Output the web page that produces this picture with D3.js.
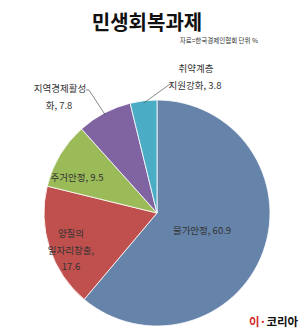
<!DOCTYPE html>
<html><head><meta charset="utf-8">
<script src="https://cdn.jsdelivr.net/npm/d3@7"></script>
<style>body{margin:0;background:#fff}svg{display:block}</style>
</head><body>
<svg id="c" width="300" height="336"></svg>
<script>
const categories = ["물가안정", "양질의 일자리창출", "주거안정", "지역경제활성화", "취약계층 지원강화"];
const values = [60.9, 17.6, 9.5, 7.8, 3.8];
const colors = ["#6683a9", "#c0504d", "#9bbb59", "#8064a2", "#4bacc6"];
const labelLines = [["물가안정, 60.9"], ["양질의", "일자리창출,", "17.6"], ["주거안정, 9.5"], ["지역경제활성", "화, 7.8"], ["취약계층", "지원강화, 3.8"]];

const svg = d3.select("#c");
const font = "'Noto Sans CJK KR','Noto Sans',sans-serif";
const cx = 157, cy = 213, R = 113;

svg.append("text").attr("x", 147).attr("y", 30).attr("text-anchor", "middle")
  .attr("font-family", font).attr("font-weight", "bold").attr("font-size", 20).attr("fill", "#111")
  .text("민생회복과제");
svg.append("text").attr("x", 258).attr("y", 43).attr("text-anchor", "end")
  .attr("font-family", font).attr("font-size", 6.5).attr("fill", "#333")
  .text("자료=한국경제인협회 단위 %");

const pie = d3.pie().sort(null).value(d => d)
  .startAngle(0).endAngle(2 * Math.PI * d3.sum(values) / 99.6);
const arcs = pie(values);
const arc = d3.arc().innerRadius(0).outerRadius(R);
const g = svg.append("g").attr("transform", `translate(${cx},${cy})`);
g.selectAll("path").data(arcs).join("path")
  .attr("d", arc).attr("fill", (d, i) => colors[i])
  .attr("stroke", "#fff").attr("stroke-width", 0.8);

// label layout (positions relative to page)
const labelPos = [
  {x: 202, y: 234, anchor: "middle"},
  {x: 71, y: 237, anchor: "middle"},
  {x: 77, y: 181, anchor: "middle"},
  {x: 60, y: 92, anchor: "middle"},
  {x: 196, y: 72, anchor: "middle"}
];
const lineH = [0, 16.5, 0, 17, 17];
labelLines.forEach((lines, i) => {
  const p = labelPos[i];
  const t = svg.append("text").attr("font-family", font).attr("font-size", 9.5)
    .attr("fill", "#333").attr("text-anchor", p.anchor);
  lines.forEach((s, j) => {
    let x = p.x;
    if (i === 3 && j === 1) x = 59;
    if (i === 4 && j === 1) x = 195;
    t.append("tspan").attr("x", x).attr("y", p.y + j * lineH[i]).text(s);
  });
});

// leader lines from slice edge to labels
const leader = (i, pts) => {
  const a = arcs[i];
  const mid = (a.startAngle + a.endAngle) / 2;
  const ex = cx + Math.sin(mid) * R * 0.98, ey = cy - Math.cos(mid) * R * 0.98;
  svg.append("path").attr("fill", "none").attr("stroke", "#555").attr("stroke-width", 0.7)
    .attr("d", d3.line()([[ex, ey], ...pts]));
};
leader(3, [[89, 90], [86, 90]]);
leader(4, [[170, 84], [173, 84]]);

const logo = svg.append("text").attr("x", 249).attr("y", 326)
  .attr("font-family", font).attr("font-weight", "bold").attr("font-size", 11.5);
logo.append("tspan").attr("fill", "#d42a2a").text("이·");
logo.append("tspan").attr("fill", "#111").text("코리아");
</script>
</body></html>
